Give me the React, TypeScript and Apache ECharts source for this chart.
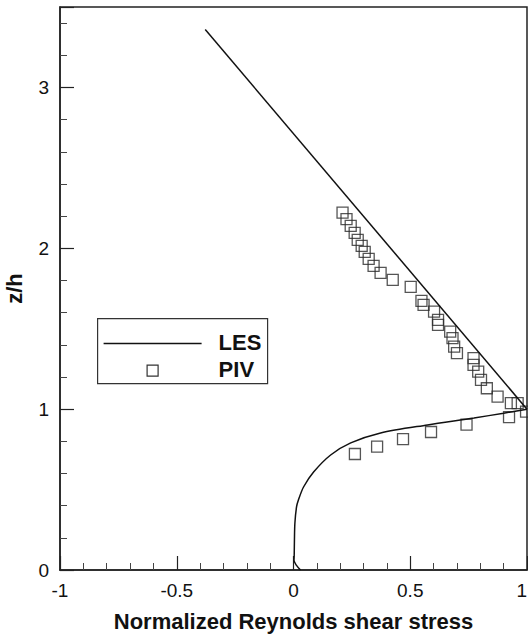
import React, { useEffect, useRef } from "react";
import * as echarts from "echarts";

// LES profile: straight upper branch and curved lower branch meeting at (1, 1)
const lesUpperX = [-0.378, 1.0];
const lesUpperY = [3.36, 1.0];
const lesLowerX = [1.0, 0.9, 0.773, 0.574, 0.373, 0.245, 0.159, 0.086, 0.043, 0.021, 0.013, 0.006, 0.004, 0.003, 0.002, 0.012, 0.03];
const lesLowerY = [1.0, 0.975, 0.945, 0.902, 0.852, 0.79, 0.715, 0.609, 0.516, 0.435, 0.392, 0.292, 0.187, 0.09, 0.06, 0.03, 0.0];

// PIV measurements
const pivX = [0.21, 0.227, 0.245, 0.262, 0.275, 0.292, 0.305, 0.322, 0.343, 0.373, 0.425, 0.502, 0.548, 0.557, 0.602, 0.619, 0.619, 0.671, 0.681, 0.688, 0.7, 0.771, 0.771, 0.791, 0.803, 0.828, 0.874, 0.931, 0.96, 0.996, 0.263, 0.358, 0.469, 0.589, 0.741, 0.923];
const pivY = [2.222, 2.181, 2.139, 2.096, 2.052, 2.015, 1.978, 1.934, 1.891, 1.847, 1.803, 1.76, 1.673, 1.648, 1.606, 1.555, 1.524, 1.482, 1.441, 1.389, 1.348, 1.317, 1.275, 1.233, 1.182, 1.13, 1.078, 1.037, 1.037, 0.984, 0.721, 0.767, 0.813, 0.858, 0.904, 0.95];

const xTitle = "Normalized Reynolds shear stress";
const yTitle = "z/h";
const legendNames = ["LES", "PIV"];

const FONT = "'Liberation Sans', Arial, Helvetica, sans-serif";
const INK = "#111";

const zip = (xs: number[], ys: number[]) => xs.map((x, i) => [x, ys[i]]);

export default function App() {
  const ref = useRef<HTMLDivElement>(null);

  useEffect(() => {
    if (!ref.current) return;
    const chart = echarts.init(ref.current, undefined, { renderer: "svg" });

    const axisLine = { show: true, onZero: false, lineStyle: { color: "#222", width: 1.5 } };
    const axisTick = { show: true, inside: true, length: 14, lineStyle: { color: "#222", width: 1.2 } };
    const minorTick = { show: true, splitNumber: 5, length: 7, lineStyle: { color: "#444", width: 1 } };
    const axisLabel = { color: INK, fontSize: 19, fontFamily: FONT, margin: 11 };
    const nameTextStyle = { color: INK, fontSize: 22, fontWeight: "bold", fontFamily: FONT };

    chart.setOption({
      animation: false,
      backgroundColor: "#fff",
      grid: {
        left: 60,
        right: 1,
        top: 7,
        bottom: 67,
        containLabel: false,
        outerBoundsMode: "none",
        show: true,
        borderColor: "#222",
        borderWidth: 1.5,
        backgroundColor: "transparent",
      },
      xAxis: {
        type: "value",
        min: -1,
        max: 1,
        interval: 0.5,
        axisLine,
        axisTick,
        minorTick,
        splitLine: { show: false },
        axisLabel: { ...axisLabel, alignMaxLabel: "right" },
        name: xTitle,
        nameLocation: "middle",
        nameGap: 40,
        nameTextStyle,
      },
      yAxis: {
        type: "value",
        min: 0,
        max: 3.5,
        interval: 1,
        axisLine,
        axisTick,
        minorTick,
        splitLine: { show: false },
        axisLabel: {
          ...axisLabel,
          formatter: (v: number) => (Number.isInteger(v) ? String(v) : ""),
        },
        name: yTitle,
        nameLocation: "middle",
        nameRotate: 90,
        nameGap: 35,
        nameTextStyle,
      },
      series: [
        {
          name: legendNames[0],
          type: "line",
          data: zip(lesUpperX, lesUpperY),
          showSymbol: false,
          lineStyle: { color: INK, width: 1.5 },
          z: 3,
        },
        {
          name: legendNames[0],
          type: "line",
          data: zip(lesLowerX, lesLowerY),
          showSymbol: false,
          smooth: 0.3,
          lineStyle: { color: INK, width: 1.5 },
          z: 3,
        },
        {
          name: legendNames[1],
          type: "scatter",
          data: zip(pivX, pivY),
          symbol: "rect",
          symbolSize: 11,
          itemStyle: { color: "transparent", borderColor: "#2a2a2a", borderWidth: 1.3 },
          z: 2,
        },
      ],
      graphic: [
        {
          type: "group",
          left: 97,
          top: 318,
          children: [
            {
              type: "rect",
              shape: { x: 0, y: 0, width: 170, height: 65 },
              style: { fill: "#fff", stroke: "#333", lineWidth: 1.2 },
            },
            {
              type: "line",
              shape: { x1: 6, y1: 25, x2: 104, y2: 25 },
              style: { stroke: INK, lineWidth: 1.5 },
            },
            {
              type: "rect",
              shape: { x: 49.5, y: 46.5, width: 11, height: 11 },
              style: { fill: "transparent", stroke: "#333", lineWidth: 1.2 },
            },
            {
              type: "text",
              x: 121,
              y: 24,
              style: {
                text: legendNames[0],
                fill: INK,
                font: `bold 22px ${FONT}`,
                verticalAlign: "middle",
              },
            },
            {
              type: "text",
              x: 121,
              y: 51,
              style: {
                text: legendNames[1],
                fill: INK,
                font: `bold 22px ${FONT}`,
                verticalAlign: "middle",
              },
            },
          ],
        },
      ],
    });

    return () => chart.dispose();
  }, []);

  return (
    <div
      ref={ref}
      style={{ position: "absolute", left: 0, top: 0, width: 528, height: 637, background: "#fff" }}
    />
  );
}
